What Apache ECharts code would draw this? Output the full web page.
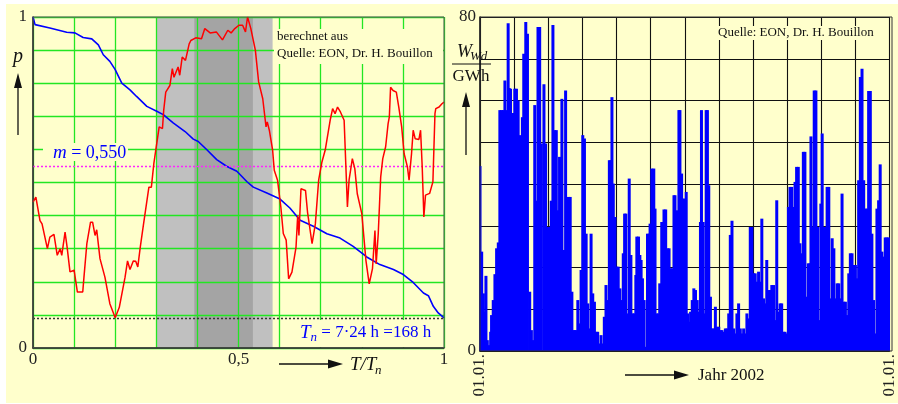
<!DOCTYPE html>
<html><head><meta charset="utf-8">
<script src="https://cdn.jsdelivr.net/npm/echarts/dist/echarts.min.js"></script>
<style>html,body{margin:0;padding:0;background:#fff}#c{width:898px;height:404px}</style>
</head><body><div id="c"></div>
<script>
// ---- Left chart: relative wind power over one week (T/Tn) ----
const redT = [0,0.007,0.017,0.022,0.035,0.041,0.051,0.059,0.066,0.07,0.078,0.083,0.09,0.1,0.108,0.121,0.124,0.131,0.14,0.145,0.151,0.155,0.163,0.175,0.187,0.2,0.21,0.224,0.23,0.236,0.244,0.25,0.255,0.261,0.269,0.282,0.288,0.294,0.299,0.307,0.315,0.318,0.323,0.333,0.339,0.343,0.353,0.357,0.363,0.371,0.38,0.384,0.396,0.41,0.418,0.431,0.446,0.461,0.474,0.482,0.491,0.501,0.51,0.517,0.522,0.53,0.541,0.549,0.559,0.567,0.57,0.575,0.583,0.587,0.595,0.603,0.609,0.616,0.622,0.63,0.64,0.644,0.647,0.652,0.663,0.668,0.679,0.687,0.695,0.703,0.711,0.723,0.729,0.735,0.741,0.748,0.752,0.757,0.765,0.769,0.777,0.783,0.789,0.8,0.81,0.818,0.822,0.826,0.832,0.835,0.84,0.846,0.851,0.858,0.864,0.867,0.87,0.874,0.876,0.884,0.89,0.897,0.903,0.911,0.915,0.921,0.925,0.93,0.939,0.943,0.947,0.951,0.955,0.965,0.973,0.978,0.98,0.988,0.995,1];
const redP = [0.441,0.456,0.385,0.375,0.30,0.335,0.343,0.28,0.30,0.28,0.35,0.305,0.23,0.235,0.169,0.169,0.214,0.315,0.38,0.38,0.34,0.357,0.27,0.214,0.134,0.0915,0.123,0.214,0.263,0.237,0.263,0.262,0.245,0.305,0.375,0.486,0.486,0.557,0.6,0.668,0.663,0.718,0.773,0.793,0.844,0.818,0.849,0.824,0.879,0.869,0.919,0.929,0.937,0.934,0.965,0.952,0.955,0.931,0.96,0.952,0.965,0.975,0.975,0.955,1.0,0.965,0.9,0.804,0.753,0.668,0.683,0.658,0.598,0.537,0.507,0.426,0.346,0.326,0.209,0.229,0.305,0.4,0.34,0.481,0.476,0.41,0.315,0.375,0.507,0.562,0.598,0.688,0.723,0.708,0.728,0.713,0.718,0.688,0.426,0.507,0.572,0.542,0.466,0.406,0.265,0.194,0.189,0.24,0.355,0.254,0.345,0.517,0.572,0.608,0.678,0.698,0.788,0.793,0.778,0.773,0.728,0.668,0.587,0.547,0.507,0.587,0.658,0.632,0.63,0.658,0.547,0.396,0.462,0.467,0.502,0.708,0.723,0.728,0.738,0.743];
const blueT = [0,0.005,0.041,0.082,0.102,0.122,0.143,0.159,0.171,0.187,0.2,0.216,0.236,0.252,0.277,0.301,0.317,0.341,0.37,0.39,0.402,0.423,0.447,0.471,0.496,0.52,0.536,0.569,0.601,0.625,0.65,0.682,0.715,0.747,0.779,0.812,0.844,0.877,0.901,0.925,0.95,0.962,0.974,0.986,1];
const blueP = [1.0,0.977,0.967,0.954,0.952,0.938,0.934,0.916,0.886,0.866,0.841,0.8,0.78,0.76,0.73,0.715,0.705,0.68,0.654,0.631,0.624,0.599,0.569,0.549,0.534,0.503,0.486,0.468,0.45,0.423,0.386,0.368,0.345,0.332,0.307,0.275,0.252,0.237,0.222,0.198,0.166,0.158,0.126,0.106,0.091];
const meanP = 0.55;
const minP = 0.09;
const bandLight = [0.3, 0.583];
const bandDark = [0.3925, 0.535];
const leftXLabels = {0: '0', 5: '0,5', 10: '1'};
const leftYLabels = {0: '0', 10: '1'};

// ---- Right chart: daily wind energy 2002 (GWh) ----
const days = [0,1.5,3.0,4.4,5.3,6.5,8.3,9.5,10.3,11.8,
13.3,14.8,16.3,17.7,19.2,20.7,22.2,23.6,25.1,26.0,
27.2,28.7,29.6,31.0,32.5,34.0,35.5,36.0,37.8,39.0,
40.8,42.3,44.3,45.8,47.3,48.8,50.2,51.7,53.2,54.7,
57.0,58.5,59.7,61.2,62.1,63.5,65.0,66.5,68.0,69.5,
70.9,73.0,74.5,76.3,77.4,78.9,80.4,81.9,83.3,84.5,
85.7,87.2,88.7,90.1,91.6,93.1,94.6,96.1,97.5,99.0,
100.5,102.0,103.4,104.9,106.4,107.9,109.4,110.8,112.3,113.8,
115.3,116.7,117.6,118.8,120.3,121.8,123.2,124.7,126.2,127.7,
128.9,130.0,131.5,133.0,134.5,136.0,137.4,138.9,139.8,141.3,
142.5,143.6,144.8,146.3,147.8,149.3,150.7,151.6,153.1,154.9,
156.0,157.2,159.0,160.2,162.0,164.0,165.5,167.0,168.5,169.9,
171.4,172.9,173.8,175.0,175.9,177.3,178.2,179.7,180.8,182.6,
183.8,185.0,186.2,187.7,189.2,190.6,192.1,193.6,195.1,196.5,
197.4,198.9,200.4,201.6,202.7,203.9,205.4,206.9,208.4,209.8,
211.3,212.8,214.3,215.7,217.2,218.7,220.2,221.7,223.1,224.6,
226.1,227.6,229.0,230.5,232.0,233.5,235.0,236.4,237.9,239.4,
240.9,242.3,243.8,245.3,246.8,248.3,249.7,251.2,252.7,254.2,
255.6,257.1,258.6,260.1,261.6,263.0,264.5,266.0,267.5,268.9,
270.4,271.9,273.4,274.9,276.3,277.8,279.3,280.8,282.2,283.7,
285.2,286.7,288.2,289.6,291.1,292.6,294.1,295.0,296.4,297.9,
299.4,300.9,302.3,303.8,305.0,306.5,308.0,309.4,310.9,312.4,
313.9,315.4,316.8,318.3,319.8,321.3,322.7,324.2,325.7,327.2,
328.7,330.1,331.6,333.1,334.6,336.0,337.5,339.0,340.5,342.0,
343.4,344.9,346.4,347.9,349.3,350.8,352.3,353.8,355.3,356.7,
358.2,359.7,361.2,362.6,364.1];
const wind = [44.3,23.8,13.8,9.4,18,2.6,1.4,4.6,8.6,12.2,
18.4,24.6,26,57.7,57.7,57.7,64.8,57.7,78.5,63,
62.8,54.9,57,62.8,62.8,60,51.7,43.3,56,71.2,
78.8,76,14.2,5,2.6,58.9,36,77.6,77.6,49.7,
63.9,49.7,29.7,29.7,26.2,36,78.1,52.9,52.9,33.7,
46.5,60.4,24.2,62.4,23.4,36.9,36.9,14.2,5,5,
5,12.2,6.6,19.4,51.7,50.9,28.1,11.4,5.4,28.1,
13.8,11.8,4.6,4.6,1.8,3.8,1.8,8.2,15.8,12.2,
45.7,45.7,60.8,40.1,32.1,20.2,20.2,15,12.2,23.4,
32.9,32.9,9,41.3,23,9,9,18.2,27.4,27.4,
23,21.8,17.4,12.2,1,28.1,28.1,30.5,43.7,43.7,
34.1,9,9,16.2,30.9,33.9,33.9,24.6,24.6,19.8,
19.8,37.3,37.3,15.8,33.7,57.7,57.7,42.5,36.5,36.5,
38.1,9,7,9.4,12.2,15,14.6,12.2,9.4,30.9,
57.7,30.9,9,57.7,57.7,39.7,13,5.4,5.4,10.6,
5.8,5.8,5,5,4.6,5.4,5.4,9,27.8,31.2,
5.4,4.2,9,11.4,5.4,4.2,5.4,4.2,9,7.8,
29.7,29.7,18.6,18.6,16.6,19,16.6,31.7,12.6,11.4,
21.8,14.6,14.6,15.8,15.8,7.4,36.1,9.4,11.4,11.4,
4.6,4.6,4.2,34.5,39.3,39.3,34.5,40.5,44.1,44.1,
25.8,23.4,47.7,47.7,13,21,21,51.4,29.7,62.4,
62.4,29.7,7.4,35.3,52.1,29.7,29.7,39.3,39.3,12.6,
27,24.6,12.6,16.2,16.2,12.6,37.7,11.8,11.8,8.6,
18.6,23.4,23.4,20.6,20.6,17.4,40.9,65.6,67.6,40.9,
34.1,34.1,62.3,62.3,28.1,12.2,4.2,34.1,36.1,44.7,
23.8,22.6,27.2,27.2,27.2];
const yearLabel = '01.01.';
const rightYLabels = {0: '0', 8: '80'};

const SERIF = '"Liberation Serif", "Times New Roman", serif';
const BG = '#ffffcc';
const n = Math.min(days.length, wind.length);
const barData = [];
for (let i = 0; i < n; i++) barData.push([days[i] * 12 / 365, wind[i]]);

const chart = echarts.init(document.getElementById('c'), null, {renderer: 'canvas'});
const lblStyle = {fontFamily: SERIF, fontSize: 17, color: '#222'};

function txt(x, y, text, extra) {
  return {type: 'text', x: x, y: y, z: 100,
    style: Object.assign({text: text, fontFamily: SERIF, fontSize: 17, fill: '#111', verticalAlign: 'middle', align: 'left'}, extra || {})};
}
function rect(x, y, w, h, fill, z, stroke) {
  return {type: 'rect', z: z, shape: {x: x, y: y, width: w, height: h},
    style: stroke ? {fill: 'none', stroke: stroke, lineWidth: 1} : {fill: fill}};
}
function arrowH(x1, x2, y) {
  return [
    {type: 'line', z: 100, shape: {x1: x1, y1: y, x2: x2 - 12, y2: y}, style: {stroke: '#111', lineWidth: 1.3}},
    {type: 'polygon', z: 100, shape: {points: [[x2 - 15, y - 4.5], [x2, y], [x2 - 15, y + 4.5]]}, style: {fill: '#111'}}
  ];
}
function arrowV(x, y1, y2) {
  return [
    {type: 'line', z: 100, shape: {x1: x, y1: y1, x2: x, y2: y2 + 12}, style: {stroke: '#111', lineWidth: 1.3}},
    {type: 'polygon', z: 100, shape: {points: [[x - 4, y2 + 15], [x, y2], [x + 4, y2 + 15]]}, style: {fill: '#111'}}
  ];
}

const graphics = [
  rect(6, 4, 892, 399, BG, -10),
  rect(33, 17, 411, 331, null, 99, '#555'),
  rect(480, 17, 412, 334, null, 99, '#333'),
  // left annotations
  rect(43, 143, 85, 18, BG, 98),
  {type: 'text', x: 53, y: 153, z: 100, style: {text: '{i|m}{r| = 0,550}', verticalAlign: 'middle',
    rich: {i: {fontFamily: SERIF, fontStyle: 'italic', fontSize: 19, fill: '#0000ff'},
           r: {fontFamily: SERIF, fontSize: 18, fill: '#0000ff'}}}},
  rect(274, 29, 169, 35, BG, 98),
  txt(277, 37, 'berechnet aus', {fontSize: 13}),
  txt(277, 54, 'Quelle: EON, Dr. H. Bouillon', {fontSize: 13}),
  rect(296, 320, 147, 27, BG, 98),
  {type: 'text', x: 300, y: 333, z: 100, style: {text: '{i|T}{s|n}{r| = 7·24 h =168 h}', verticalAlign: 'middle',
    rich: {i: {fontFamily: SERIF, fontStyle: 'italic', fontSize: 19, fill: '#0000ff'},
           s: {fontFamily: SERIF, fontStyle: 'italic', fontSize: 13, fill: '#0000ff', padding: [9, 0, 0, 0]},
           r: {fontFamily: SERIF, fontSize: 17, fill: '#0000ff'}}}},
  txt(18, 57, 'p', {fontStyle: 'italic', fontSize: 20, align: 'center'}),
  ...arrowV(18, 135, 73),
  ...arrowH(279, 343, 364),
  txt(350, 365, 'T/T', {fontStyle: 'italic', fontSize: 19}),
  txt(375, 371, 'n', {fontStyle: 'italic', fontSize: 13}),
  // right annotations
  rect(716, 26, 166, 14, BG, 98),
  txt(718, 33, 'Quelle: EON, Dr. H. Bouillon', {fontSize: 13}),
  txt(457, 52, 'W', {fontStyle: 'italic', fontSize: 18}),
  txt(470, 57, 'Wd', {fontStyle: 'italic', fontSize: 13}),
  {type: 'line', z: 100, shape: {x1: 452, y1: 64, x2: 491, y2: 64}, style: {stroke: '#111', lineWidth: 1}},
  txt(471, 77, 'GWh', {fontSize: 17, align: 'center'}),
  ...arrowV(466, 155, 92),
  ...arrowH(625, 689, 375),
  txt(698, 376, 'Jahr 2002', {fontSize: 17})
];

const option = {
  backgroundColor: '#ffffff',
  animation: false,
  grid: [
    {left: 33, top: 17, width: 411, height: 331, show: true, backgroundColor: BG, borderWidth: 0},
    {left: 480, top: 17, width: 412, height: 334, show: true, backgroundColor: BG, borderWidth: 0}
  ],
  xAxis: [
    {type: 'value', gridIndex: 0, min: 0, max: 1, interval: 0.1, z: 2,
     axisLine: {show: true, onZero: false, lineStyle: {color: '#111', width: 1.5}},
     axisTick: {show: false},
     splitLine: {show: true, lineStyle: {color: '#22e622', width: 1.3}},
     axisLabel: Object.assign({margin: 3, formatter: function (v) { const k = Math.round(v * 10); return leftXLabels[k] || ''; }}, lblStyle)},
    {type: 'value', gridIndex: 1, min: 0, max: 12, interval: 1, z: 0,
     axisLine: {show: true, onZero: false, lineStyle: {color: '#111', width: 1.5}},
     axisTick: {show: false},
     splitLine: {show: true, lineStyle: {color: '#111', width: 1.1}},
     axisLabel: Object.assign({margin: 3, rotate: 90, formatter: function (v) { return (v === 0 || v === 12) ? yearLabel : ''; }}, lblStyle)}
  ],
  yAxis: [
    {type: 'value', gridIndex: 0, min: 0, max: 1, interval: 0.1, z: 2,
     axisLine: {show: true, onZero: false, lineStyle: {color: '#111', width: 1.5}},
     axisTick: {show: false},
     splitLine: {show: true, lineStyle: {color: '#22e622', width: 1.3}},
     axisLabel: Object.assign({margin: 6, formatter: function (v) { const k = Math.round(v * 10); return leftYLabels[k] || ''; }}, lblStyle)},
    {type: 'value', gridIndex: 1, min: 0, max: 80, interval: 10, z: 0,
     axisLine: {show: true, onZero: false, lineStyle: {color: '#111', width: 1.5}},
     axisTick: {show: false},
     splitLine: {show: true, lineStyle: {color: '#111', width: 1.1}},
     axisLabel: Object.assign({margin: 4, formatter: function (v) { const k = Math.round(v / 10); return rightYLabels[k] || ''; }}, lblStyle)}
  ],
  series: [
    {type: 'line', xAxisIndex: 0, yAxisIndex: 0, data: [], z: 1, silent: true,
     markArea: {silent: true, data: [
       [{xAxis: bandLight[0], itemStyle: {color: '#c0c0c0', opacity: 1}}, {xAxis: bandLight[1]}],
       [{xAxis: bandDark[0], itemStyle: {color: '#a4a4a4', opacity: 1}}, {xAxis: bandDark[1]}]
     ]}},
    {type: 'line', xAxisIndex: 0, yAxisIndex: 0, z: 4, showSymbol: false, silent: true,
     data: blueT.map((t, i) => [t, blueP[i]]),
     lineStyle: {color: '#0000ff', width: 1.6},
     markLine: {silent: true, symbol: ['none', 'none'], label: {show: false},
       data: [
         {yAxis: meanP, lineStyle: {color: '#ff22ff', type: [2, 2], width: 1.3}},
         {yAxis: minP, lineStyle: {color: '#333333', type: [2, 2], width: 1.3}}
       ]}},
    {type: 'line', xAxisIndex: 0, yAxisIndex: 0, z: 5, showSymbol: false, silent: true,
     data: redT.map((t, i) => [t, redP[i]]),
     lineStyle: {color: '#ff0000', width: 1.5}},
    {type: 'bar', xAxisIndex: 1, yAxisIndex: 1, z: 3, silent: true, barWidth: 3, barGap: '-100%',
     data: barData, itemStyle: {color: '#0000ff'}}
  ],
  graphic: graphics
};
chart.setOption(option);
</script></body></html>
